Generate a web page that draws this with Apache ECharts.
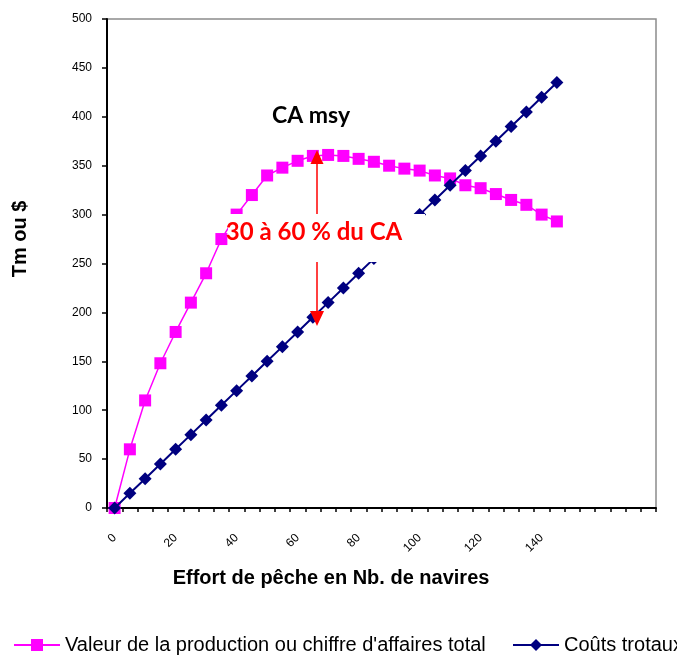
<!DOCTYPE html>
<html>
<head>
<meta charset="utf-8">
<script src="https://cdn.jsdelivr.net/npm/echarts@6/dist/echarts.min.js"></script>
<style>
  html, body { margin: 0; padding: 0; background: #fff; }
  #chart { width: 677px; height: 655px; }
</style>
</head>
<body>
<div id="chart"></div>
<script>
// Fishing effort (number of vessels), one category every 5 vessels
const effort = [0, 5, 10, 15, 20, 25, 30, 35, 40, 45, 50, 55, 60, 65, 70,
                75, 80, 85, 90, 95, 100, 105, 110, 115, 120, 125, 130, 135, 140, 145];
// Empty categories that extend the axis to the right
const emptyCategories = ['', '', '', '', '', ''];
// Total revenue (value of the catch)
const revenue = [0, 60, 110, 148, 180, 210, 240, 275, 300, 320, 340, 348, 355, 360, 361,
                 360, 357, 354, 350, 347, 345, 340, 337, 330, 327, 321, 315, 310, 300, 293];
// Total costs
const costs = [0, 15, 30, 45, 60, 75, 90, 105, 120, 135, 150, 165, 180, 195, 210,
               225, 240, 255, 270, 285, 300, 315, 330, 345, 360, 375, 390, 405, 420, 435];
const yTicks = { min: 0, max: 500, step: 50 };

const seriesNames = ["Valeur de la production ou chiffre d'affaires total", 'Coûts trotaux'];

const FONT = '"Liberation Sans", Arial, sans-serif';
const NOTE_FONT = 'Lato, "Open Sans", sans-serif';

const chart = echarts.init(document.getElementById('chart'), null, { renderer: 'canvas' });

const legendBase = {
  top: 630,
  orient: 'horizontal',
  itemWidth: 46, itemHeight: 15,
  textStyle: { fontSize: 20, color: '#000', fontFamily: FONT }
};

const option = {
  animation: false,
  backgroundColor: '#ffffff',
  grid: {
    left: 107, right: 21, top: 19, bottom: 147,
    show: true, borderColor: '#8c8c8c', borderWidth: 1.5, backgroundColor: 'transparent'
  },
  xAxis: {
    type: 'category',
    data: effort.map(String).concat(emptyCategories),
    boundaryGap: true,
    axisLine: { show: true, lineStyle: { color: '#000', width: 2 } },
    axisTick: { show: true, interval: 0, length: 4, lineStyle: { color: '#000', width: 1.5 } },
    axisLabel: { interval: 3, rotate: 45, margin: 28, fontSize: 12, color: '#000', fontFamily: FONT },
    splitLine: { show: false }
  },
  yAxis: {
    type: 'value',
    min: yTicks.min, max: yTicks.max, interval: yTicks.step,
    axisLine: { show: true, lineStyle: { color: '#000', width: 2 } },
    axisTick: { show: true, length: 5, lineStyle: { color: '#000', width: 1.5 } },
    axisLabel: { margin: 15, fontSize: 12, color: '#000', fontFamily: FONT },
    splitLine: { show: false }
  },
  legend: [
    Object.assign({}, legendBase, { data: [seriesNames[0]], left: 8 }),
    Object.assign({}, legendBase, { data: [seriesNames[1]], left: 507, width: 400 })
  ],
  series: [
    {
      name: seriesNames[0],
      type: 'line',
      data: revenue,
      symbol: 'rect',
      symbolSize: 12,
      showAllSymbol: true,
      itemStyle: { color: '#FF00FF' },
      lineStyle: { color: '#FF00FF', width: 1.5 },
      z: 2
    },
    {
      name: seriesNames[1],
      type: 'line',
      data: costs,
      symbol: 'diamond',
      symbolSize: 13,
      showAllSymbol: true,
      itemStyle: { color: '#000080' },
      lineStyle: { color: '#000080', width: 2 },
      z: 3
    }
  ],
  graphic: [
    // axis titles
    {
      type: 'text', x: 20, y: 239, rotation: Math.PI / 2, z: 50,
      style: { text: 'Tm ou $', textAlign: 'center', textVerticalAlign: 'middle',
               font: 'bold 20px ' + FONT, fill: '#000' }
    },
    {
      type: 'text', x: 331, y: 578, z: 50,
      style: { text: 'Effort de pêche en Nb. de navires', textAlign: 'center', textVerticalAlign: 'middle',
               font: 'bold 20px ' + FONT, fill: '#000' }
    },
    // margin arrow between revenue at MSY and costs
    {
      type: 'line', z: 60,
      shape: { x1: 317, y1: 160, x2: 317, y2: 315 },
      style: { stroke: '#FF0000', lineWidth: 1.5 }
    },
    {
      type: 'polygon', z: 60,
      shape: { points: [[317, 150], [310.5, 164], [323.5, 164]] },
      style: { fill: '#FF0000' }
    },
    {
      type: 'polygon', z: 60,
      shape: { points: [[317, 326], [310, 311], [324, 311]] },
      style: { fill: '#FF0000' }
    },
    // label box with white background
    {
      type: 'rect', z: 70,
      shape: { x: 228, y: 214, width: 197, height: 48 },
      style: { fill: '#ffffff' }
    },
    {
      type: 'text', x: 314, y: 232, z: 80,
      style: { text: '30 à 60 % du CA', textAlign: 'center', textVerticalAlign: 'middle',
               font: 'bold 24px ' + NOTE_FONT, fill: '#FF0000' }
    },
    {
      type: 'text', x: 311, y: 116, z: 80,
      style: { text: 'CA msy', textAlign: 'center', textVerticalAlign: 'middle',
               font: 'bold 23px ' + NOTE_FONT, fill: '#000' }
    }
  ]
};

chart.setOption(option);
</script>
</body>
</html>
